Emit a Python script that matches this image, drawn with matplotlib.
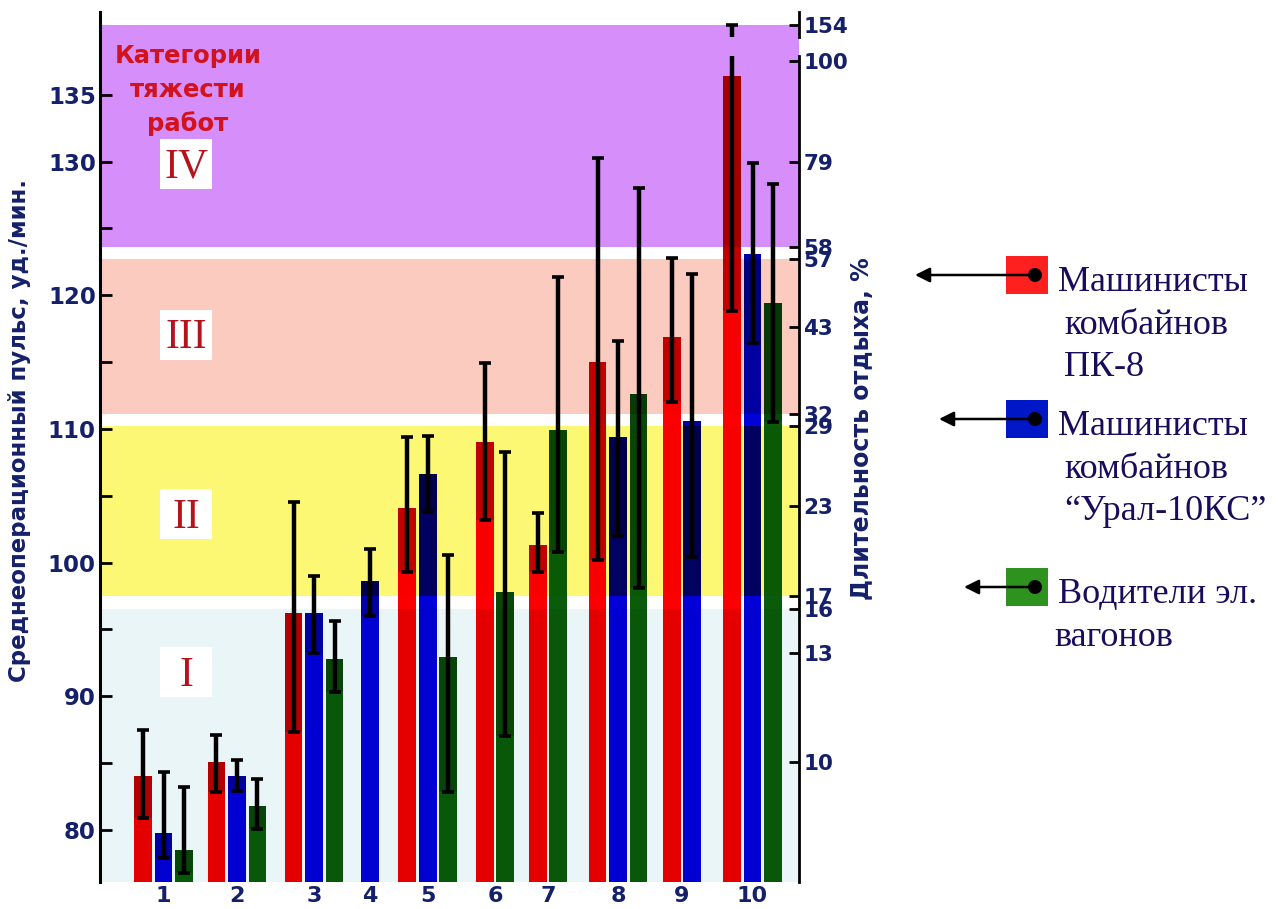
import matplotlib
matplotlib.use("Agg")
import matplotlib.pyplot as plt
import numpy as np
from matplotlib.colors import to_rgb
from matplotlib.patches import Rectangle, Circle

groups = ["1", "2", "3", "4", "5", "6", "7", "8", "9", "10"]

# pulse, beats/min: mean, lower and upper end of the spread
pk8_mean = [84.0, 85.1, 96.2, np.nan, 104.1, 109.0, 101.3, 115.0, 116.9, 136.4]
pk8_low = [80.9, 82.8, 87.3, np.nan, 99.3, 103.2, 99.3, 100.2, 112.0, 118.8]
pk8_high = [87.5, 87.1, 104.5, np.nan, 109.4, 114.9, 103.7, 130.3, 122.8, 140.2]

ural_mean = [79.8, 84.0, 96.2, 98.6, 106.6, np.nan, np.nan, 109.4, 110.6, 123.1]
ural_low = [77.9, 82.9, 93.2, 96.0, 103.8, np.nan, np.nan, 102.0, 100.4, 116.4]
ural_high = [84.3, 85.2, 99.0, 101.0, 109.5, np.nan, np.nan, 116.6, 121.6, 129.9]

drv_mean = [78.5, 81.8, 92.8, np.nan, 92.9, 97.8, 109.9, 112.6, np.nan, 119.4]
drv_low = [76.8, 80.1, 90.3, np.nan, 82.8, 87.0, 100.8, 98.1, np.nan, 110.5]
drv_high = [83.2, 83.8, 95.6, np.nan, 100.6, 108.3, 121.4, 128.0, np.nan, 128.3]

# rest duration scale (%) and where each mark sits on the pulse scale
rest_pct = [154, 100, 79, 58, 57, 43, 32, 29, 23, 17, 16, 13, 10]
rest_pulse = [140.2, 137.5, 130.0, 123.6, 122.7, 117.6, 111.1, 110.2, 104.25, 97.5, 96.5, 93.2, 85.1]

categories = ["IV", "III", "II", "I"]
category_pulse = [129.8, 117.05, 103.6, 91.8]

series = [
    ("Машинисты\nкомбайнов\nПК-8", pk8_mean, pk8_low, pk8_high, "#fa0000", "#fe1f1f"),
    ("Машинисты\nкомбайнов\n“Урал-10КС”", ural_mean, ural_low, ural_high, "#0000d7", "#0017c8"),
    ("Водители эл.\nвагонов", drv_mean, drv_low, drv_high, "#0a5c0a", "#2e931e"),
]

NAVY = "#15206b"
Y0, Y1 = 76.1, 141.2
group_x = [3.10, 6.68, 10.44, 13.17, 15.98, 19.27, 21.85, 25.27, 28.39, 31.83]
bar_w = 0.87
axis_break = (137.9, 139.3)

bands = [
    (rest_pulse[3], rest_pulse[0], "#d68ffa"),
    (rest_pulse[6], rest_pulse[4], "#fbcbbf"),
    (rest_pulse[9], rest_pulse[7], "#fdf873"),
    (Y0, rest_pulse[10], "#eaf5f7"),
]


def band_tint(rgb, y):
    # bars look as if the band colour were multiplied over them
    for lo, hi, c in bands:
        if lo <= y < hi:
            return tuple(a * b for a, b in zip(rgb, to_rgb(c)))
    return rgb


def draw_bar(ax, x, mean, low, color):
    rgb = to_rgb(color)
    cuts = {Y0, mean, low}
    for lo, hi, _ in bands:
        cuts |= {lo, hi}
    cuts = sorted(c for c in cuts if Y0 <= c <= mean)
    for a, b in zip(cuts[:-1], cuts[1:]):
        mid = (a + b) / 2
        c = band_tint(rgb, mid)
        if mid > low:
            c = tuple(v * 0.78 for v in c)
        ax.bar(x, b - a, bottom=a, width=bar_w, color=c, linewidth=0, zorder=2)


fig = plt.figure(figsize=(12.86, 9.09), dpi=100)
ax = fig.add_axes([100 / 1286, 27 / 909, 699 / 1286, 870 / 909])
ax.set_xlim(0, 699 / 20.5)
ax.set_ylim(Y0, Y1)

for lo, hi, c in bands:
    ax.axhspan(lo, hi, color=c, linewidth=0, zorder=0)

for gi, gx in enumerate(group_x):
    present = [s for s in series if not np.isnan(s[1][gi])]
    n = len(present)
    for k, (_, mean, low, high, color, _) in enumerate(present):
        x = gx + (k - (n - 1) / 2)
        draw_bar(ax, x, mean[gi], low[gi], color)
        ax.errorbar(x, mean[gi], yerr=[[mean[gi] - low[gi]], [high[gi] - mean[gi]]],
                    fmt="none", ecolor="black", elinewidth=3.2, capsize=4.5,
                    capthick=2.6, zorder=3)
        if high[gi] > axis_break[1]:
            ax.add_patch(Rectangle((x - 0.5, axis_break[0]), 1.0, axis_break[1] - axis_break[0],
                                   facecolor=bands[0][2], linewidth=0, zorder=4))

for s in ["top", "bottom", "right"]:
    ax.spines[s].set_visible(False)
ax.spines["left"].set_linewidth(2.2)

ax.set_xticks(group_x)
ax.set_xticklabels(groups)
ax.tick_params(axis="x", length=0, pad=3, labelsize=16, labelcolor=NAVY)
ax.set_yticks([80, 90, 100, 110, 120, 130, 135])
ax.set_yticks([85, 95, 105, 115, 125], minor=True)
ax.tick_params(axis="y", which="both", direction="in", length=8.5, width=2,
               pad=3, labelsize=16.5, labelcolor=NAVY)
for lab in ax.get_xticklabels() + ax.get_yticklabels():
    lab.set_fontweight("heavy")

# right-hand scale with a break between 100 and 154
ax2 = ax.twinx()
ax2.set_ylim(Y0, Y1)
for s in ax2.spines.values():
    s.set_visible(False)
ax2.set_yticks(rest_pulse)
ax2.set_yticklabels([str(v) for v in rest_pct])
ax2.tick_params(axis="y", direction="in", length=7, width=2, pad=3,
                labelsize=15.5, labelcolor=NAVY)
for lab in ax2.get_yticklabels():
    lab.set_fontweight("heavy")
tr = ax2.get_yaxis_transform()
ax2.plot([1, 1], [Y0, axis_break[0]], color="black", lw=2, transform=tr, clip_on=False)
ax2.plot([1, 1], [axis_break[1], Y1], color="black", lw=2, transform=tr, clip_on=False)

# annotation layer in pixel coordinates
ov = fig.add_axes([0, 0, 1, 1], zorder=5)
ov.set_xlim(0, 1286)
ov.set_ylim(909, 0)
ov.axis("off")

ov.text(20, 430, "Среднеоперационный пульс, уд./мин.", rotation=90, ha="center",
        va="center", fontsize=16.5, fontweight="heavy", color=NAVY)
ov.text(862, 429, "Длительность отдыха, %", rotation=90, ha="center",
        va="center", fontsize=17, fontweight="heavy", color=NAVY)

for i, line in enumerate(["Категории", "тяжести", "работ"]):
    ov.text(188, 63 + 34 * i, line, ha="center", va="baseline", fontsize=17.5,
            fontweight="heavy", color="#d2121c")

for name, yv in zip(categories, category_pulse):
    yc = ov.transData.inverted().transform(ax.transData.transform((0, yv)))[1]
    ov.add_patch(Rectangle((160, yc - 25), 52, 50, facecolor="white", linewidth=0))
    ov.text(186, yc + 13.5, name, ha="center", va="baseline", fontsize=30,
            family="Liberation Serif", color="#b5121b")

legend_y = [275, 419, 587]
arrow_tip = [915, 939, 964]
indent = [6, 6, -4]
for (label, *_, lcolor), yc, tip, ind in zip(series, legend_y, arrow_tip, indent):
    ov.add_patch(Rectangle((1006, yc - 19), 42, 38, facecolor=lcolor, linewidth=0))
    ov.annotate("", xy=(tip, yc), xytext=(1035, yc),
                arrowprops=dict(arrowstyle="-|>", color="black", lw=1.8,
                                mutation_scale=22, shrinkA=0, shrinkB=0))
    ov.add_patch(Circle((1035, yc), 7, facecolor="black", linewidth=0))
    for i, line in enumerate(label.split("\n")):
        ov.text(1058 + (ind if i else 0), yc + 16 + 42.7 * i, line, ha="left",
                va="baseline", fontsize=26, family="Liberation Serif", color="#180c5c")

fig.savefig("out.png", dpi=100)
